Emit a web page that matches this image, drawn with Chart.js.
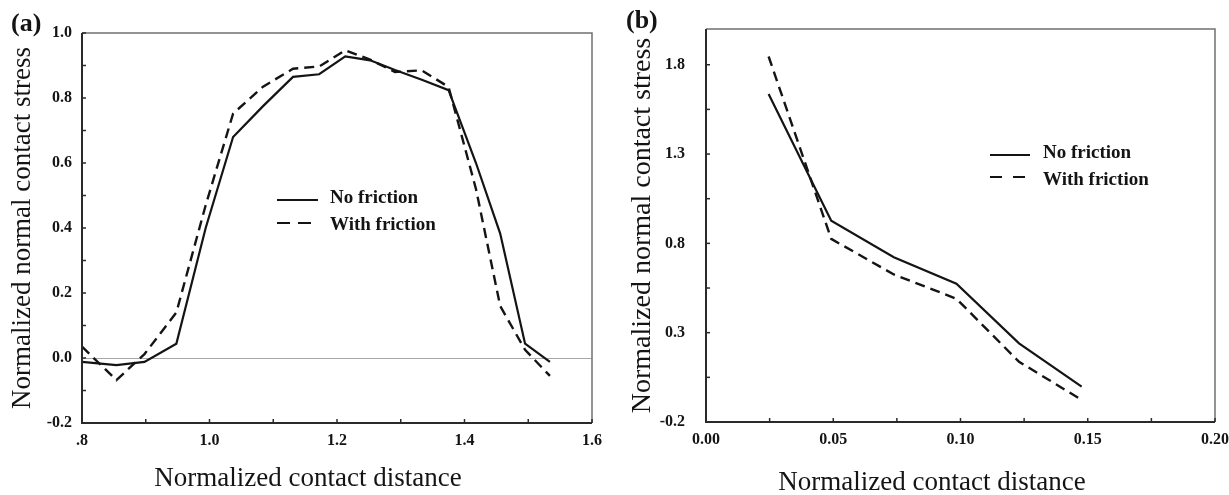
<!DOCTYPE html>
<html><head><meta charset="utf-8">
<script src="https://cdn.jsdelivr.net/npm/chart.js@4.4.1/dist/chart.umd.min.js"></script>
<style>
html,body{margin:0;padding:0;background:#fff;width:1229px;height:495px;overflow:hidden}
canvas{position:absolute;top:0}
#ca{left:0}
#cb{left:610px}
</style></head><body>
<canvas id="ca" width="610" height="495"></canvas>
<canvas id="cb" width="619" height="495"></canvas>
<script>
// ---------- data: panel (a) ----------
const aDistance      = [0.800, 0.854, 0.898, 0.948, 0.994, 1.037, 1.084, 1.131, 1.172, 1.213, 1.252, 1.291, 1.333, 1.375, 1.418, 1.456, 1.495, 1.534];
const aNoFriction    = [-0.012, -0.022, -0.012, 0.044, 0.40, 0.68, 0.775, 0.865, 0.873, 0.928, 0.916, 0.886, 0.856, 0.824, 0.60, 0.383, 0.044, -0.012];
const aWithFriction  = [0.035, -0.068, 0.012, 0.14, 0.47, 0.752, 0.835, 0.89, 0.897, 0.947, 0.918, 0.88, 0.885, 0.834, 0.52, 0.16, 0.025, -0.055];
const aXTickValues   = [0.8, 1.0, 1.2, 1.4, 1.6];
const aXTickLabels   = ['.8', '1.0', '1.2', '1.4', '1.6'];
const aXMinorTicks   = [0.9, 1.1, 1.3, 1.5];
const aYTickValues   = [-0.2, 0, 0.2, 0.4, 0.6, 0.8, 1.0];
const aYTickLabels   = ['-0.2', '0.0', '0.2', '0.4', '0.6', '0.8', '1.0'];
const aYMinorTicks   = [-0.1, 0.1, 0.3, 0.5, 0.7, 0.9];
// ---------- data: panel (b) ----------
const bDistance      = [0.0246, 0.0492, 0.0738, 0.0984, 0.1230, 0.1476];
const bNoFriction    = [1.636, 0.927, 0.722, 0.574, 0.240, -0.002];
const bWithFriction  = [1.846, 0.825, 0.626, 0.490, 0.137, -0.076];
const bXTickValues   = [0, 0.05, 0.10, 0.15, 0.20];
const bXTickLabels   = ['0.00', '0.05', '0.10', '0.15', '0.20'];
const bXMinorTicks   = [0.025, 0.075, 0.125, 0.175];
const bYTickValues   = [-0.2, 0.3, 0.8, 1.3, 1.8];
const bYTickLabels   = ['-0.2', '0.3', '0.8', '1.3', '1.8'];
const bYMinorTicks   = [0.05, 0.55, 1.05, 1.55];
const seriesNames    = ['No friction', 'With friction'];
const xTitle = 'Normalized contact distance';
const yTitle = 'Normalized normal contact stress';

const FONT = "'Liberation Serif', 'Times New Roman', serif";
const INK = '#141414';

const decor = {
  id: 'decor',
  beforeDatasetsDraw(chart, args, o) {
    const {ctx, chartArea: a, scales: {y}} = chart;
    if (o.zeroLine) {
      const py = Math.round(y.getPixelForValue(0)) + 0.5;
      ctx.save();
      ctx.strokeStyle = '#a8a8a8'; ctx.lineWidth = 1;
      ctx.beginPath(); ctx.moveTo(a.left, py); ctx.lineTo(a.right, py); ctx.stroke();
      ctx.restore();
    }
  },
  afterDatasetsDraw(chart, args, o) {
    const {ctx, chartArea: a, scales: {x, y}} = chart;
    ctx.save();
    // frame
    ctx.strokeStyle = '#707070'; ctx.lineWidth = 1.5;
    ctx.beginPath(); ctx.moveTo(a.left, a.top); ctx.lineTo(a.right, a.top); ctx.lineTo(a.right, a.bottom); ctx.stroke();
    ctx.strokeStyle = '#2a2a2a'; ctx.lineWidth = 2;
    ctx.beginPath(); ctx.moveTo(a.left, a.top); ctx.lineTo(a.left, a.bottom); ctx.lineTo(a.right, a.bottom); ctx.stroke();
    // inward tick marks
    ctx.lineWidth = 1.5; ctx.strokeStyle = '#2a2a2a';
    const L = o.tickLen;
    x.ticks.map(t => t.value).concat(o.xMinor).forEach(v => {
      const px = x.getPixelForValue(v);
      ctx.beginPath(); ctx.moveTo(px, a.bottom); ctx.lineTo(px, a.bottom - L); ctx.stroke();
    });
    y.ticks.map(t => t.value).concat(o.yMinor).forEach(v => {
      const py = y.getPixelForValue(v);
      ctx.beginPath(); ctx.moveTo(a.left, py); ctx.lineTo(a.left + L, py); ctx.stroke();
    });
    // legend
    const lg = o.legend;
    ctx.font = `bold ${lg.size}px ${FONT}`;
    ctx.textAlign = 'left'; ctx.textBaseline = 'alphabetic';
    chart.data.datasets.forEach((ds, i) => {
      ctx.strokeStyle = ds.borderColor; ctx.lineWidth = 2.2;
      ctx.setLineDash(ds.borderDash ? lg.dash : []);
      ctx.beginPath(); ctx.moveTo(lg.x, lg.lineY[i]); ctx.lineTo(lg.x + lg.len, lg.lineY[i]); ctx.stroke();
      ctx.setLineDash([]);
      ctx.fillStyle = INK;
      ctx.fillText(ds.label, lg.textX, lg.base[i]);
    });
    // x-axis title
    ctx.font = `${o.xTitle.size}px ${FONT}`;
    ctx.textAlign = 'center'; ctx.fillStyle = INK;
    ctx.fillText(xTitle, o.xTitle.cx, o.xTitle.base);
    // panel tag
    ctx.textAlign = 'left';
    ctx.font = `bold ${o.tag.size}px ${FONT}`;
    ctx.fillText(o.tag.text, o.tag.x, o.tag.y);
    ctx.restore();
  }
};

function datasets(xs, s1, s2) {
  return [
    {label: seriesNames[0], data: xs.map((x, i) => ({x, y: s1[i]})), borderColor: INK, borderWidth: 2.2,
     pointRadius: 0, showLine: true, tension: 0, fill: false},
    {label: seriesNames[1], data: xs.map((x, i) => ({x, y: s2[i]})), borderColor: INK, borderWidth: 2.4,
     borderDash: [10, 6], pointRadius: 0, showLine: true, tension: 0, fill: false}
  ];
}

function makeChart(id, cfg) {
  const tickFont = {family: FONT, size: 16, weight: 'bold'};
  return new Chart(document.getElementById(id), {
    type: 'scatter',
    data: {datasets: datasets(cfg.xs, cfg.s1, cfg.s2)},
    options: {
      responsive: false, animation: false, devicePixelRatio: 1,
      layout: {padding: cfg.pad},
      plugins: {legend: {display: false}, tooltip: {enabled: false}, decor: cfg.decor},
      scales: {
        x: {
          type: 'linear', position: 'bottom', min: cfg.xMin, max: cfg.xMax,
          afterBuildTicks: s => { s.ticks = cfg.xTicks.map(v => ({value: v})); },
          ticks: {callback: (v, i) => cfg.xLabels[i], font: tickFont, color: INK, padding: 8, maxRotation: 0, autoSkip: false},
          grid: {display: false, drawTicks: false},
          border: {display: false},
          title: {display: false},
          afterFit: s => { s.height = cfg.xHeight; s.paddingLeft = 0; s.paddingRight = 0; }
        },
        y: {
          type: 'linear', position: 'left', min: cfg.yMin, max: cfg.yMax,
          afterBuildTicks: s => { s.ticks = cfg.yTicks.map(v => ({value: v})); },
          ticks: {callback: (v, i) => cfg.yLabels[i], font: tickFont, color: INK, padding: cfg.yTickPad, autoSkip: false},
          grid: {display: false, drawTicks: false},
          border: {display: false},
          title: {display: true, text: yTitle, color: INK, font: {family: FONT, size: cfg.yTitleSize, lineHeight: 1}, padding: {top: cfg.yTitlePad, bottom: 0}},
          afterFit: s => { s.width = cfg.yWidth; s.paddingTop = 0; s.paddingBottom = 0; }
        }
      }
    },
    plugins: [decor]
  });
}

makeChart('ca', {
  xs: aDistance, s1: aNoFriction, s2: aWithFriction,
  xMin: 0.8, xMax: 1.6, yMin: -0.2, yMax: 1.0,
  xTicks: aXTickValues, xLabels: aXTickLabels, yTicks: aYTickValues, yLabels: aYTickLabels,
  pad: {left: 0, top: 33, right: 18, bottom: 0},
  xHeight: 72, yWidth: 82, yTickPad: 10, yTitlePad: 9, yTitleSize: 27,
  decor: {zeroLine: true, tickLen: 4, xMinor: aXMinorTicks, yMinor: aYMinorTicks,
    legend: {x: 277, len: 41, textX: 330, lineY: [200, 223], base: [203, 230], size: 19, dash: [13, 8]},
    xTitle: {cx: 308, base: 486, size: 27},
    tag: {text: '(a)', x: 11, y: 31, size: 26}}
});

makeChart('cb', {
  xs: bDistance, s1: bNoFriction, s2: bWithFriction,
  xMin: 0, xMax: 0.2, yMin: -0.2, yMax: 2.0,
  xTicks: bXTickValues, xLabels: bXTickLabels, yTicks: bYTickValues, yLabels: bYTickLabels,
  pad: {left: 0, top: 29, right: 14, bottom: 0},
  xHeight: 73, yWidth: 96, yTickPad: 21, yTitlePad: 19, yTitleSize: 28,
  decor: {zeroLine: false, tickLen: 4, xMinor: bXMinorTicks, yMinor: bYMinorTicks,
    legend: {x: 380, len: 40, textX: 433, lineY: [155, 177], base: [158, 185], size: 19, dash: [12, 11]},
    xTitle: {cx: 322, base: 490, size: 27},
    tag: {text: '(b)', x: 16, y: 28, size: 26}}
});
</script>
</body></html>
